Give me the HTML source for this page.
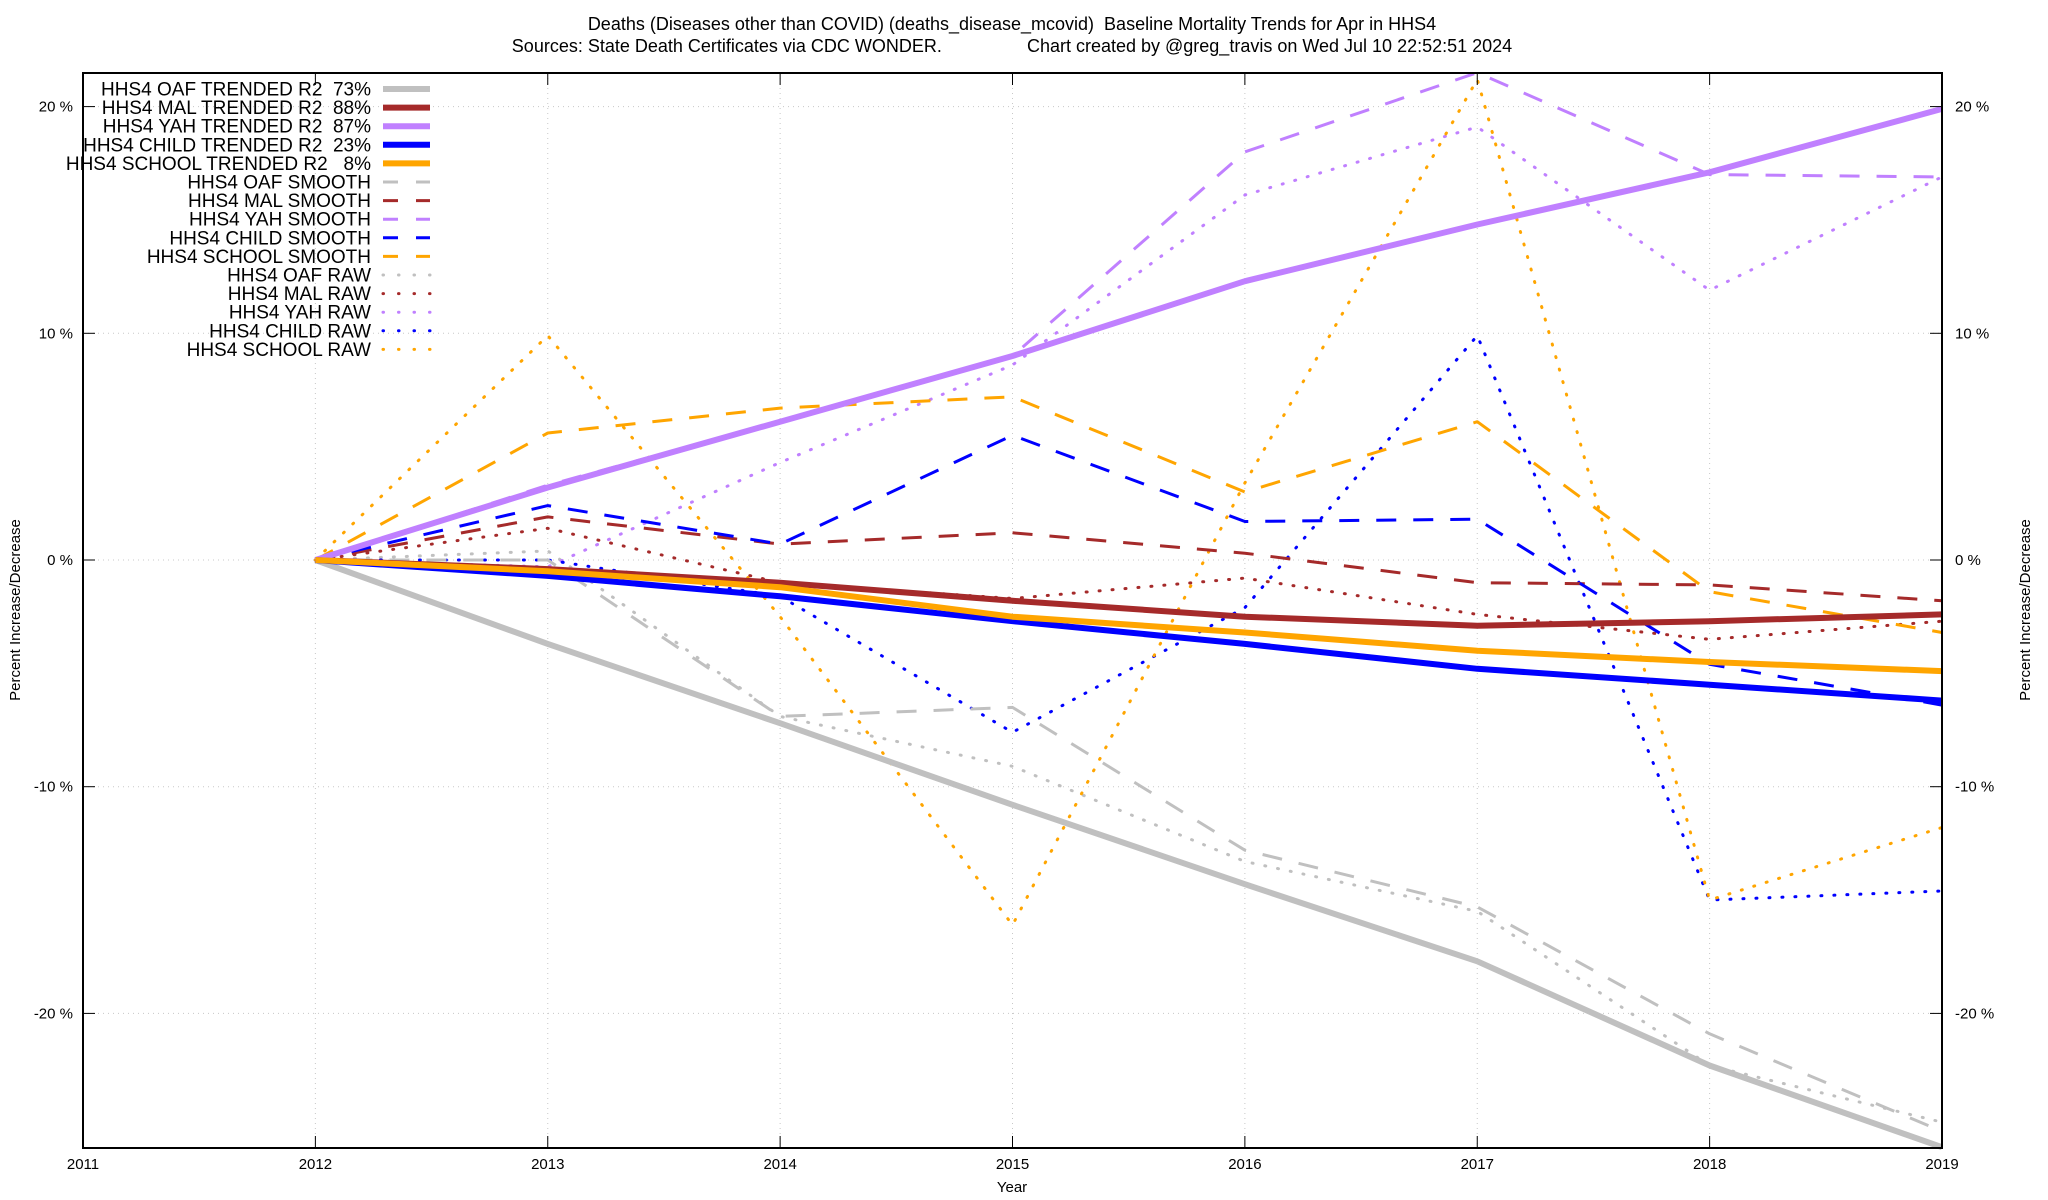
<!DOCTYPE html>
<html><head><meta charset="utf-8"><style>
html,body{margin:0;padding:0;background:#fff;}
svg{display:block;font-family:"Liberation Sans",sans-serif;}
</style></head><body>
<svg id="chart" width="2048" height="1200" viewBox="0 0 2048 1200">
<text x="1012" y="30" text-anchor="middle" font-size="18" xml:space="preserve" style="white-space:pre">Deaths (Diseases other than COVID) (deaths_disease_mcovid)  Baseline Mortality Trends for Apr in HHS4</text>
<text x="1012" y="52" text-anchor="middle" font-size="18" xml:space="preserve" style="white-space:pre">Sources: State Death Certificates via CDC WONDER.                 Chart created by @greg_travis on Wed Jul 10 22:52:51 2024</text>
<g id="grid"></g>
<g id="series"></g>
<g id="axes"></g>
<g id="legend"></g>
<text x="1012" y="1192" text-anchor="middle" font-size="15">Year</text>
<text transform="translate(20,610) rotate(-90)" text-anchor="middle" font-size="15">Percent Increase/Decrease</text>
<text transform="translate(2030,610) rotate(-90)" text-anchor="middle" font-size="15">Percent Increase/Decrease</text>
</svg>
<script>
const years = [2012,2013,2014,2015,2016,2017,2018,2019];
const xTicks = [2011,2012,2013,2014,2015,2016,2017,2018,2019];
const yTicks = [-20,-10,0,10,20];
const oafTrend = [0,-3.7,-7.2,-10.8,-14.3,-17.7,-22.3,-25.9];
const malTrend = [0,-0.4,-1.0,-1.8,-2.5,-2.9,-2.7,-2.4];
const yahTrend = [0,3.2,6.1,9.0,12.3,14.8,17.1,19.9];
const childTrend = [0,-0.7,-1.6,-2.7,-3.7,-4.8,-5.5,-6.2];
const schoolTrend = [0,-0.5,-1.2,-2.5,-3.2,-4.0,-4.5,-4.9];
const oafSmooth = [0,0,-6.9,-6.5,-12.8,-15.3,-20.9,-25.2];
const malSmooth = [0,1.9,0.7,1.2,0.3,-1.0,-1.1,-1.8];
const yahSmooth = [0,3.3,6.1,9.0,18.0,21.5,17.0,16.9];
const childSmooth = [0,2.4,0.7,5.5,1.7,1.8,-4.6,-6.4];
const schoolSmooth = [0,5.6,6.7,7.2,3.0,6.1,-1.4,-3.2];
const oafRaw = [0,0.4,-6.9,-9.1,-13.3,-15.5,-22.3,-24.8];
const malRaw = [0,1.4,-1.0,-1.7,-0.8,-2.4,-3.5,-2.7];
const yahRaw = [0,-0.3,4.3,8.6,16.1,19.1,11.9,16.9];
const childRaw = [0,0.0,-1.6,-7.6,-2.1,9.9,-15.0,-14.6];
const schoolRaw = [0,9.9,-2.5,-16.1,3.4,21.2,-15.0,-11.8];

const L=83,R=1942,T=73,B=1148;
const xS = y => L + (y-2011)*(R-L)/8;
const yS = v => 560 - v*22.67;
const NS="http://www.w3.org/2000/svg";
function mk(tag,attrs,parent){const e=document.createElementNS(NS,tag);for(const k in attrs)e.setAttribute(k,attrs[k]);parent.appendChild(e);return e;}
const grid=document.getElementById('grid'),axes=document.getElementById('axes'),ser=document.getElementById('series'),leg=document.getElementById('legend');

xTicks.forEach(t=>{
  const x=xS(t);
  if(t>2011&&t<2019){const g=mk('line',{x1:x,x2:x,y1:T,y2:B,stroke:'#c8c8c8','stroke-width':1,'stroke-dasharray':'1,4'},grid);
  
  }
  mk('line',{x1:x,x2:x,y1:B,y2:B-12,stroke:'#000','stroke-width':1},axes);
  mk('line',{x1:x,x2:x,y1:T,y2:T+12,stroke:'#000','stroke-width':1},axes);
  const lb=mk('text',{x:x,y:B+21,'text-anchor':'middle','font-size':15},axes);
  lb.textContent=t;
  
  
});
yTicks.forEach(t=>{
  const y=yS(t);
  const g=mk('line',{x1:L,x2:R,y1:y,y2:y,stroke:'#c8c8c8','stroke-width':1,'stroke-dasharray':'1,4'},grid);
  
  
  mk('line',{x1:L,x2:L+12,y1:y,y2:y,stroke:'#000','stroke-width':1},axes);
  mk('line',{x1:R,x2:R-12,y1:y,y2:y,stroke:'#000','stroke-width':1},axes);
  const a=mk('text',{x:L-10,y:y+5,'text-anchor':'end','font-size':15},axes);
  a.textContent=t+' %';
  
  
  const b=mk('text',{x:R+13,y:y+5,'text-anchor':'start','font-size':15},axes);
  b.textContent=t+' %';
  
  
});
const frame=mk('rect',{x:L,y:T,width:R-L,height:B-T,fill:'none',stroke:'#000','stroke-width':2},axes);



const cols={oaf:'#c0c0c0',mal:'#a52a2a',yah:'#c080ff',child:'#0000ff',school:'#ffa500'};
const styles={trend:{w:6,d:''},smooth:{w:3,d:'20,17'},raw:{w:3,d:'1,12'}};
const defs=[
 ['HHS4 OAF TRENDED R2  73%',oafTrend,'oaf','trend'],
 ['HHS4 MAL TRENDED R2  88%',malTrend,'mal','trend'],
 ['HHS4 YAH TRENDED R2  87%',yahTrend,'yah','trend'],
 ['HHS4 CHILD TRENDED R2  23%',childTrend,'child','trend'],
 ['HHS4 SCHOOL TRENDED R2   8%',schoolTrend,'school','trend'],
 ['HHS4 OAF SMOOTH',oafSmooth,'oaf','smooth'],
 ['HHS4 MAL SMOOTH',malSmooth,'mal','smooth'],
 ['HHS4 YAH SMOOTH',yahSmooth,'yah','smooth'],
 ['HHS4 CHILD SMOOTH',childSmooth,'child','smooth'],
 ['HHS4 SCHOOL SMOOTH',schoolSmooth,'school','smooth'],
 ['HHS4 OAF RAW',oafRaw,'oaf','raw'],
 ['HHS4 MAL RAW',malRaw,'mal','raw'],
 ['HHS4 YAH RAW',yahRaw,'yah','raw'],
 ['HHS4 CHILD RAW',childRaw,'child','raw'],
 ['HHS4 SCHOOL RAW',schoolRaw,'school','raw']
];
const order=[10,11,12,13,14,5,6,7,8,9,0,1,2,3,4];
order.forEach(i=>{
  const [name,vals,c,s]=defs[i];
  const pts=vals.map((v,j)=>xS(years[j]).toFixed(1)+','+yS(v).toFixed(1)).join(' ');
  const st=styles[s];
  const p=mk('polyline',{points:pts,fill:'none',stroke:cols[c],'stroke-width':st.w,'stroke-linejoin':'round','stroke-linecap':s==='raw'?'round':'butt'},ser);
  if(st.d)p.setAttribute('stroke-dasharray',st.d);
  
  
});
defs.forEach((d,i)=>{
  const [name,,c,s]=d;
  const y=89+i*18.6;
  const g=mk('g',{},leg);
  
  
  const t=mk('text',{x:371,y:y+6.5,'text-anchor':'end','font-size':19,'xml:space':'preserve',style:'white-space:pre'},g);
  t.textContent=name;
  const st=styles[s];
  const l=mk('line',{x1:383,x2:430,y1:y,y2:y,stroke:cols[c],'stroke-width':st.w,'stroke-linecap':s==='raw'?'round':'butt'},g);
  if(s==='smooth')l.setAttribute('stroke-dasharray','15,18');
  if(s==='raw')l.setAttribute('stroke-dasharray','0.5,15');
});
</script>
</body></html>
